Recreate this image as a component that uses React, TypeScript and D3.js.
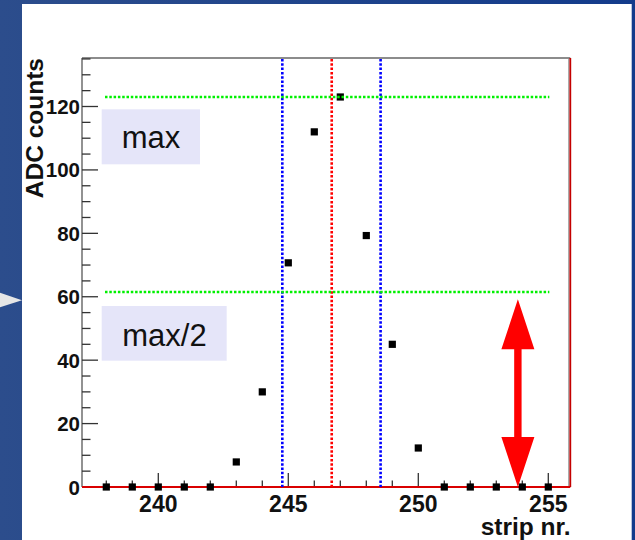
import React from "react";
import * as d3 from "d3";

const strips = [238, 239, 240, 241, 242, 243, 244, 245, 246, 247, 248, 249, 250, 251, 252, 253, 254, 255];
const adcCounts = [0, 0, 0, 0, 0, 7.9, 30, 70.7, 112, 123, 79.3, 45, 12.3, 0, 0, 0, 0, 0];
const xTickLabels = [240, 245, 250, 255];
const yTickLabels = [0, 20, 40, 60, 80, 100, 120];
const maxLevels = [123, 61.5];
const maxLevelRange = [237.95, 255.04];
const widthLines = [244.77, 248.55];
const centerLine = [246.67];
const arrowStrip = [253.83];
const arrowRange = [0, 59.2];
const boxLabels = ["max", "max/2"];

const W = 635;
const H = 540;

export default function App() {
  const x = d3.scaleLinear().domain([240, 255]).range([158.3, 548.3]);
  const y = d3.scaleLinear().domain([0, 120]).range([487, 106.5]);
  const x0 = 82, x1 = 570.3;
  const yTop = 58, yBot = 487;
  const yMax = y.invert(yTop);

  const minorY = d3.range(0, yMax + 0.01, 5);
  const minorX = d3.range(238, 256, 1);

  const ax = x(arrowStrip[0]);
  const aTop = y(arrowRange[1]);
  const aBot = y(arrowRange[0]);
  const headL = 50, headW = 16.5, shaftW = 3.7;
  const arrowPath = [
    `M${ax},${aTop}`,
    `L${ax + headW},${aTop + headL}`,
    `L${ax + shaftW},${aTop + headL}`,
    `L${ax + shaftW},${aBot - headL}`,
    `L${ax + headW},${aBot - headL}`,
    `L${ax},${aBot}`,
    `L${ax - headW},${aBot - headL}`,
    `L${ax - shaftW},${aBot - headL}`,
    `L${ax - shaftW},${aTop + headL}`,
    `L${ax - headW},${aTop + headL}`,
    "Z",
  ].join(" ");

  const font = "'Liberation Sans', Arial, sans-serif";
  const dots = "2.5,1.8";

  return (
    <svg width={W} height={H} style={{ position: "absolute", left: 0, top: 0 }} fontFamily={font}>
      <defs>
        <linearGradient id="bg" x1="0" x2="1" y1="0" y2="0">
          <stop offset="0" stopColor="#2c4d8c" />
          <stop offset="1" stopColor="#133b8b" />
        </linearGradient>
      </defs>
      <rect x={0} y={0} width={W} height={H} fill="url(#bg)" />
      <rect x={22} y={4} width={609.7} height={H - 4} fill="#ffffff" />
      <path d="M0,292.7 L22,300.3 L0,307.3 Z" fill="#e6e6e6" />

      {/* label boxes */}
      <rect x={101.7} y={109.3} width={98.3} height={55} fill="#e5e5f9" />
      <rect x={101.7} y={306} width={125} height={54.7} fill="#e5e5f9" />
      <text x={151} y={148.3} fontSize={31} textAnchor="middle" fill="#111">{boxLabels[0]}</text>
      <text x={164.5} y={346} fontSize={31} textAnchor="middle" fill="#111">{boxLabels[1]}</text>

      {/* frame */}
      <line x1={x0} x2={x1} y1={yTop} y2={yTop} stroke="#666" strokeWidth={1.5} />
      <line x1={x0} x2={x0} y1={yTop} y2={yBot} stroke="#777" strokeWidth={1.6} />
      <line x1={x1 - 1.5} x2={x1 - 1.5} y1={yTop} y2={yBot} stroke="#888" strokeWidth={1} />

      {/* y ticks */}
      {minorY.map((v) => {
        const major = Math.abs(v % 20) < 1e-6;
        return (
          <line key={`yt${v}`} x1={x0} x2={x0 + (major ? 16 : 8.5)} y1={y(v)} y2={y(v)} stroke="#333" strokeWidth={1.3} />
        );
      })}
      {yTickLabels.map((v) => (
        <text key={`yl${v}`} x={80} y={y(v) + 7.5} fontSize={20.5} fontWeight="bold" textAnchor="end" fill="#111">{v}</text>
      ))}

      {/* x ticks */}
      {minorX.map((v) => {
        const major = v % 5 === 0;
        return (
          <line key={`xt${v}`} x1={x(v)} x2={x(v)} y1={yBot} y2={yBot - (major ? 14 : 6.5)} stroke="#333" strokeWidth={1.3} />
        );
      })}
      {xTickLabels.map((v) => (
        <text key={`xl${v}`} x={x(v)} y={511.5} fontSize={23} fontWeight="bold" textAnchor="middle" fill="#111">{v}</text>
      ))}

      {/* histogram outline (red) */}
      <line x1={x0} x2={x1} y1={yBot} y2={yBot} stroke="#d90000" strokeWidth={2} />
      <line x1={x1} x2={x1} y1={yTop} y2={yBot} stroke="#c40000" strokeWidth={1.8} />

      {/* vertical dotted lines */}
      {widthLines.map((v) => (
        <line key={`wl${v}`} x1={x(v)} x2={x(v)} y1={yTop + 1} y2={yBot} stroke="#0000ff" strokeWidth={2.6} strokeDasharray={dots} />
      ))}
      {centerLine.map((v) => (
        <line key={`cl${v}`} x1={x(v)} x2={x(v)} y1={yTop + 1} y2={yBot} stroke="#ff0000" strokeWidth={2.6} strokeDasharray={dots} />
      ))}

      {/* markers */}
      {strips.map((s, i) => (
        <rect key={`m${s}`} x={x(s) - 3.6} y={y(adcCounts[i]) - 3.6} width={7.2} height={7.2} fill="#000" />
      ))}

      {/* green dotted lines */}
      {maxLevels.map((v) => (
        <line key={`ml${v}`} x1={x(maxLevelRange[0])} x2={x(maxLevelRange[1])} y1={y(v)} y2={y(v)} stroke="#00f000" strokeWidth={2.6} strokeDasharray={dots} />
      ))}

      {/* arrow */}
      <path d={arrowPath} fill="#ff0000" />

      {/* axis titles */}
      <text x={570.5} y={535} fontSize={24.5} fontWeight="bold" textAnchor="end" fill="#111">strip nr.</text>
      <text transform={`translate(43,58) rotate(-90)`} fontSize={24.5} fontWeight="bold" textAnchor="end" fill="#111">ADC counts</text>
    </svg>
  );
}
